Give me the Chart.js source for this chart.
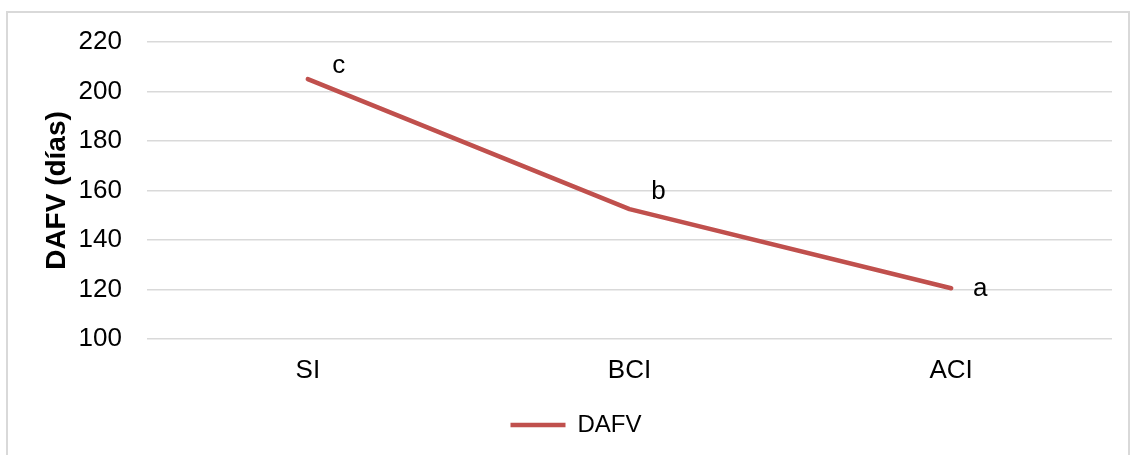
<!DOCTYPE html>
<html>
<head>
<meta charset="utf-8">
<script src="https://cdn.jsdelivr.net/npm/chart.js@4/dist/chart.umd.min.js"></script>
<style>
  body { margin: 0; background: #fff; }
  #frame { position: absolute; left: 6px; top: 11px; width: 1120px; height: 460px; border: 2px solid #d9d9d9; }
  #wrap { position: absolute; left: 0; top: 0; width: 1131px; height: 455px; }
</style>
</head>
<body>
<div id="frame"></div>
<div id="wrap"><canvas id="chart" width="1131" height="455"></canvas></div>
<script>
const categories = ['SI', 'BCI', 'ACI'];
const dafv = [205, 152.5, 120.5];
const letters = ['c', 'b', 'a'];
const yTicks = [100, 120, 140, 160, 180, 200, 220];

const RED = '#c0504d';
const FONT = '"Liberation Sans", Arial, sans-serif';

// letters next to each point (offsets in px, separate from the data)
const letterOffsets = [[31, -13], [29, -17], [29, 1]];

const letterPlugin = {
    id: 'letters',
    afterDatasetsDraw(chart) {
        const ctx = chart.ctx;
        const meta = chart.getDatasetMeta(0);
        ctx.save();
        ctx.font = '26px ' + FONT;
        ctx.fillStyle = '#000';
        ctx.textAlign = 'center';
        ctx.textBaseline = 'middle';
        meta.data.forEach((pt, i) => {
            ctx.fillText(letters[i], pt.x + letterOffsets[i][0], pt.y + letterOffsets[i][1]);
        });
        ctx.restore();
    }
};

new Chart(document.getElementById('chart').getContext('2d'), {
    type: 'line',
    data: {
        labels: categories,
        datasets: [{
            label: 'DAFV',
            data: dafv,
            borderColor: RED,
            backgroundColor: RED,
            borderWidth: 4.5,
            borderCapStyle: 'round',
            borderJoinStyle: 'round',
            pointRadius: 0,
            tension: 0
        }]
    },
    options: {
        responsive: false,
        animation: false,
        layout: { padding: { top: 42, right: 19, bottom: 8, left: 40 } },
        plugins: {
            tooltip: { enabled: false },
            legend: {
                position: 'bottom',
                labels: {
                    usePointStyle: true,
                    pointStyle: 'line',
                    pointStyleWidth: 55,
                    boxHeight: 20,
                    padding: 10,
                    color: '#000',
                    font: { family: FONT, size: 24 }
                }
            }
        },
        scales: {
            x: {
                offset: true,
                grid: { display: false },
                border: { display: false },
                ticks: { color: '#000', font: { family: FONT, size: 26 }, padding: 8 },
                afterFit(scale) { scale.height = 64; }
            },
            y: {
                min: 100,
                max: 220,
                afterBuildTicks(scale) { scale.ticks = yTicks.map(v => ({ value: v })); },
                grid: { color: '#d9d9d9', lineWidth: 1.5, drawTicks: false },
                border: { display: false },
                ticks: { color: '#000', font: { family: FONT, size: 26 }, padding: 25 },
                title: {
                    display: true,
                    text: 'DAFV (días)',
                    color: '#000',
                    font: { family: FONT, size: 28, weight: 'bold' },
                    padding: { top: 0, bottom: 0 }
                },
                afterFit(scale) { scale.width = 107; }
            }
        }
    },
    plugins: [letterPlugin]
});
</script>
</body>
</html>
